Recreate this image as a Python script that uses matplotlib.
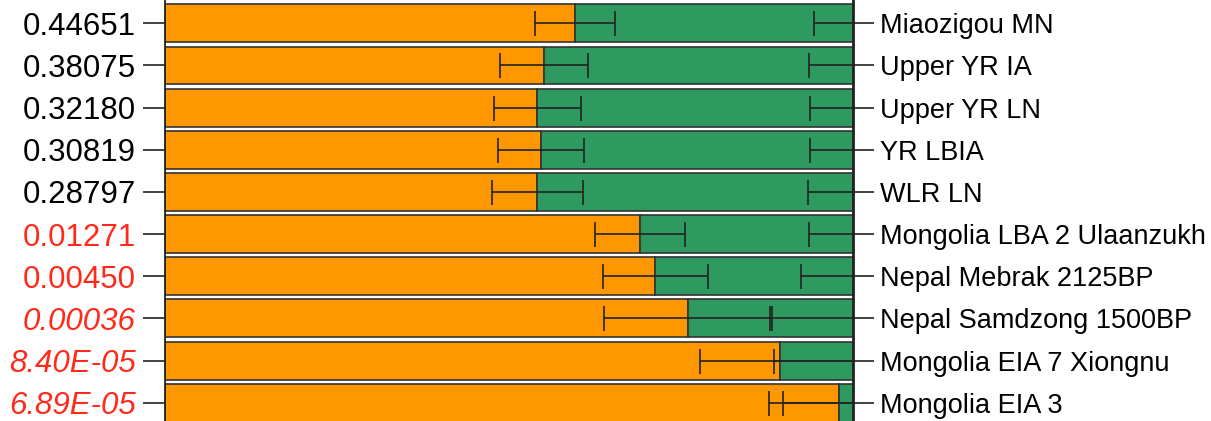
import numpy as np
import matplotlib.pyplot as plt

plt.rcParams['font.family'] = ['Liberation Sans', 'DejaVu Sans']

populations = ["Miaozigou MN", "Upper YR IA", "Upper YR LN", "YR LBIA", "WLR LN",
               "Mongolia LBA 2 Ulaanzukh", "Nepal Mebrak 2125BP",
               "Nepal Samdzong 1500BP", "Mongolia EIA 7 Xiongnu", "Mongolia EIA 3"]
p_values = ["0.44651", "0.38075", "0.32180", "0.30819", "0.28797",
            "0.01271", "0.00450", "0.00036", "8.40E-05", "6.89E-05"]
source1 = [0.595, 0.550, 0.541, 0.546, 0.541, 0.690, 0.712, 0.760, 0.893, 0.979]
std_err = [0.058, 0.064, 0.063, 0.063, 0.066, 0.065, 0.076, 0.122, 0.116, 0.102]

source2 = [1 - v for v in source1]
y = np.arange(len(populations))

fig = plt.figure(figsize=(12.11, 4.21), dpi=100)
ax = fig.add_axes([165 / 1211, 0, 688.5 / 1211, 1])

ax.barh(y, source1, height=0.9, color='#FF9800', edgecolor='#333333', linewidth=1.2)
ax.barh(y, source2, left=source1, height=0.9, color='#2E9A5F', edgecolor='#333333', linewidth=1.2)

# error bars at the split point and at the end of the stack
ax.errorbar(source1, y, xerr=std_err, fmt='none', ecolor='#222222', elinewidth=1.2,
            capsize=9, capthick=1.2)
ax.errorbar(np.ones(len(y)), y, xerr=std_err, fmt='none', ecolor='#222222', elinewidth=1.2,
            capsize=9, capthick=1.2)

ax.set_xlim(0, 1)
ax.set_ylim(9.433, -0.553)
ax.set_xticks([])
ax.spines['top'].set_visible(False)
ax.spines['bottom'].set_visible(False)
for s in ('left', 'right'):
    ax.spines[s].set_linewidth(1.3)
    ax.spines[s].set_color('#222222')

ax.set_yticks(y)
ax.set_yticklabels(p_values, fontsize=22.5)
ax.tick_params(axis='y', length=16, width=1.2, pad=5, color='#222222')
for i, lab in enumerate(ax.get_yticklabels()):
    if i >= 5:
        lab.set_color('#FF2A1A')
    if i >= 7:
        lab.set_fontstyle('italic')

ax2 = ax.twinx()
ax2.set_ylim(ax.get_ylim())
ax2.set_yticks(y)
ax2.set_yticklabels(populations, fontsize=19.5)
ax2.tick_params(axis='y', length=15, width=1.2, pad=4, color='#222222')
for s in ('top', 'bottom', 'left'):
    ax2.spines[s].set_visible(False)
ax2.spines['right'].set_linewidth(1.3)
ax2.spines['right'].set_color('#222222')

fig.savefig("out.png", dpi=100)
